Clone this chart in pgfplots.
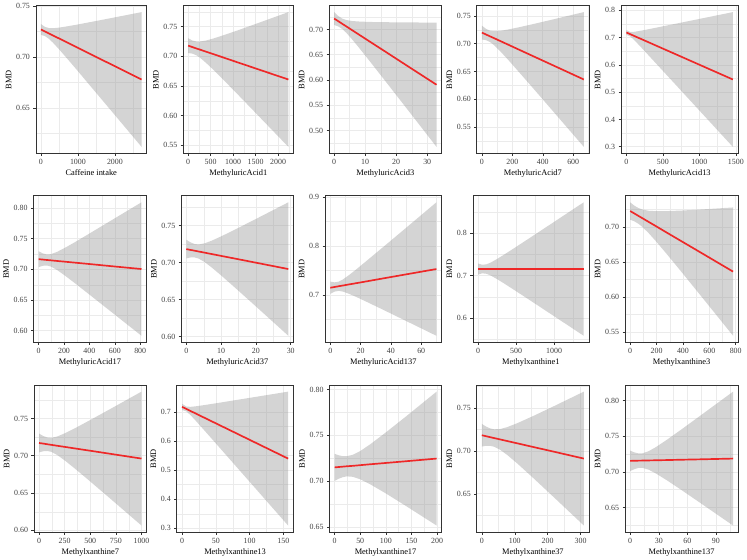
\documentclass[border=0pt]{standalone}
\usepackage{fontspec}
\setmainfont{Liberation Serif}
\usepackage{pgfplots}
\usepackage{pgfplotstable}
\pgfplotsset{compat=1.18}
\usepgfplotslibrary{fillbetween}
\definecolor{fitred}{RGB}{238,40,40}

\pgfplotstableread{
x lo m hi
0 0.7217 0.7270 0.7323
108.8 0.7205 0.7250 0.7295
217.6 0.7178 0.7231 0.7284
326.4 0.7140 0.7211 0.7282
489.6 0.7076 0.7182 0.7288
680 0.6997 0.7148 0.7299
952 0.6882 0.7099 0.7316
1360 0.6706 0.7025 0.7344
1904 0.6472 0.6927 0.7382
2720 0.6120 0.6780 0.7440
}\tA
\pgfplotstableread{
x lo m hi
0 0.7055 0.7180 0.7305
89.2 0.7047 0.7157 0.7268
178.4 0.7019 0.7134 0.7250
267.6 0.6974 0.7112 0.7250
401.4 0.6887 0.7077 0.7267
557.5 0.6776 0.7038 0.7300
780.5 0.6608 0.6981 0.7354
1115 0.6349 0.6895 0.7441
1561 0.6000 0.6781 0.7562
2230 0.5475 0.6610 0.7745
}\tB
\pgfplotstableread{
x lo m hi
0 0.7089 0.7216 0.7343
1.32 0.7060 0.7164 0.7267
2.64 0.7008 0.7111 0.7214
3.96 0.6932 0.7059 0.7186
5.94 0.6794 0.6980 0.7166
8.25 0.6621 0.6888 0.7156
11.55 0.6366 0.6757 0.7148
16.5 0.5978 0.6561 0.7143
23.1 0.5458 0.6298 0.7139
33 0.4675 0.5905 0.7135
}\tC
\pgfplotstableread{
x lo m hi
0 0.7076 0.7201 0.7326
26.8 0.7065 0.7167 0.7269
53.6 0.7031 0.7133 0.7235
80.4 0.6974 0.7100 0.7225
120.6 0.6865 0.7049 0.7232
167.5 0.6726 0.6990 0.7254
234.5 0.6518 0.6905 0.7291
335 0.6203 0.6778 0.7353
469 0.5778 0.6609 0.7439
670 0.5140 0.6355 0.7570
}\tD
\pgfplotstableread{
x lo m hi
0 0.7101 0.7187 0.7273
58.4 0.7032 0.7118 0.7204
116.8 0.6883 0.7049 0.7216
175.2 0.6719 0.6980 0.7242
262.8 0.6468 0.6877 0.7286
365 0.6172 0.6756 0.7340
511 0.5749 0.6584 0.7419
730 0.5114 0.6326 0.7537
1022 0.4266 0.5981 0.7696
1460 0.2994 0.5464 0.7934
}\tE
\pgfplotstableread{
x lo m hi
0 0.7036 0.7166 0.7297
32.4 0.7058 0.7160 0.7261
64.8 0.7063 0.7153 0.7243
97.2 0.7045 0.7147 0.7248
145.8 0.6989 0.7137 0.7286
202.5 0.6906 0.7126 0.7346
283.5 0.6778 0.7110 0.7441
405 0.6580 0.7086 0.7591
567 0.6314 0.7053 0.7793
810 0.5915 0.7005 0.8095
}\tF
\pgfplotstableread{
x lo m hi
0 0.7055 0.7181 0.7307
1.172 0.7068 0.7170 0.7273
2.344 0.7069 0.7160 0.7250
3.516 0.7054 0.7149 0.7243
5.274 0.7006 0.7133 0.7259
7.325 0.6932 0.7114 0.7295
10.255 0.6816 0.7087 0.7358
14.65 0.6633 0.7047 0.7460
20.51 0.6386 0.6993 0.7600
29.3 0.6012 0.6912 0.7812
}\tG
\pgfplotstableread{
x lo m hi
0 0.7022 0.7147 0.7272
2.8 0.7068 0.7162 0.7257
5.6 0.7083 0.7178 0.7272
8.4 0.7068 0.7193 0.7318
12.6 0.7020 0.7216 0.7411
17.5 0.6954 0.7242 0.7531
24.5 0.6852 0.7280 0.7709
35 0.6696 0.7338 0.7979
49 0.6485 0.7414 0.8342
70 0.6168 0.7528 0.8888
}\tH
\pgfplotstableread{
x lo m hi
0 0.7024 0.7154 0.7284
55.6 0.7053 0.7154 0.7255
111.2 0.7042 0.7154 0.7266
166.8 0.7001 0.7154 0.7307
250.2 0.6917 0.7154 0.7391
347.5 0.6809 0.7154 0.7499
486.5 0.6649 0.7154 0.7659
695 0.6405 0.7154 0.7903
973 0.6077 0.7154 0.8231
1390 0.5584 0.7154 0.8724
}\tI
\pgfplotstableread{
x lo m hi
0 0.7100 0.7224 0.7348
31.2 0.7078 0.7190 0.7301
62.4 0.7043 0.7155 0.7267
93.6 0.6996 0.7121 0.7245
140.4 0.6909 0.7069 0.7228
195 0.6795 0.7009 0.7222
273 0.6622 0.6922 0.7223
390 0.6355 0.6793 0.7231
546 0.5994 0.6621 0.7247
780 0.5449 0.6362 0.7275
}\tJ
\pgfplotstableread{
x lo m hi
0 0.7045 0.7171 0.7297
40 0.7060 0.7163 0.7265
80 0.7064 0.7154 0.7245
120 0.7052 0.7146 0.7240
180 0.7008 0.7133 0.7259
250 0.6938 0.7119 0.7300
350 0.6828 0.7098 0.7368
500 0.6655 0.7067 0.7479
700 0.6420 0.7025 0.7630
1000 0.6065 0.6962 0.7859
}\tK
\pgfplotstableread{
x lo m hi
0 0.7062 0.7169 0.7276
6.28 0.7015 0.7098 0.7181
12.56 0.6884 0.7027 0.7170
18.84 0.6728 0.6956 0.7184
28.26 0.6485 0.6849 0.7214
39.25 0.6197 0.6725 0.7253
54.95 0.5784 0.6547 0.7310
78.5 0.5163 0.6281 0.7398
109.9 0.4335 0.5925 0.7515
157 0.3092 0.5392 0.7692
}\tL
\pgfplotstableread{
x lo m hi
0 0.7002 0.7150 0.7298
7.96 0.7026 0.7154 0.7282
15.92 0.7043 0.7158 0.7273
23.88 0.7052 0.7162 0.7272
35.82 0.7047 0.7167 0.7288
49.75 0.7021 0.7174 0.7327
69.65 0.6965 0.7184 0.7402
99.5 0.6868 0.7198 0.7529
139.3 0.6729 0.7217 0.7705
199 0.6516 0.7246 0.7976
}\tM
\pgfplotstableread{
x lo m hi
0 0.7050 0.7182 0.7314
12.4 0.7059 0.7171 0.7284
24.8 0.7059 0.7160 0.7262
37.2 0.7048 0.7149 0.7251
55.8 0.7012 0.7133 0.7254
77.5 0.6951 0.7114 0.7277
108.5 0.6850 0.7087 0.7324
155 0.6688 0.7046 0.7404
217 0.6466 0.6992 0.7517
310 0.6130 0.6910 0.7690
}\tN
\pgfplotstableread{
x lo m hi
0 0.7010 0.7154 0.7298
4.32 0.7037 0.7155 0.7273
8.64 0.7055 0.7157 0.7259
12.96 0.7056 0.7158 0.7260
19.44 0.7030 0.7160 0.7290
27 0.6977 0.7162 0.7347
37.8 0.6887 0.7165 0.7443
54 0.6743 0.7170 0.7597
75.6 0.6545 0.7176 0.7808
108 0.6246 0.7186 0.8126
}\tO

\pgfplotsset{
  panel/.style={
    scale only axis, anchor=north west,
    enlargelimits=0.05,
    axis line style={draw=black!80, line width=0.6pt},
    tick align=outside, tick pos=left,
    major tick length=2.5pt, minor tick length=0pt,
    every tick/.style={draw=black!80, line width=0.5pt},
    grid=both,
    major grid style={draw=black!8, line width=0.55pt},
    minor grid style={draw=black!8, line width=0.3pt},
    tick label style={font=\fontsize{8}{9}\selectfont, text=black!75},
    label style={font=\fontsize{8.5}{10}\selectfont},
    ylabel={BMD},
    scaled ticks=false,
    /pgf/number format/assume math mode=true,
    xticklabel style={/pgf/number format/.cd, 1000 sep={}},
    yticklabel style={/pgf/number format/.cd, fixed, fixed zerofill, precision=2},
    xlabel style={yshift=2pt},
    ylabel style={yshift=-2pt},
  },
  onedec/.style={yticklabel style={/pgf/number format/.cd, fixed, fixed zerofill, precision=1}},
  band/.style={fill=black!40, fill opacity=0.42, draw=none},
  fit/.style={draw=fitred, line width=1.7pt},
}
\newcommand{\panelplots}[2]{%
  \addplot[name path=U#2, draw=none, forget plot] table[x=x,y=hi]{#1};
  \addplot[name path=L#2, draw=none, forget plot] table[x=x,y=lo]{#1};
  \addplot[band] fill between[of=U#2 and L#2];
  \addplot[fit] table[x=x,y=m]{#1};
}

\begin{document}
\begin{tikzpicture}
\path (0,0) rectangle (747pt,-561pt);
% Row 1
\begin{axis}[panel, at={(32.5pt,-4pt)}, width=112pt, height=150pt,
  xlabel={Caffeine intake}, xtick={0,1000,2000}, minor xtick={500,1500,2500},
  ytick={0.65,0.70,0.75}, minor ytick={0.625,0.675,0.725}]
\panelplots{\tA}{a}
\end{axis}
\begin{axis}[panel, at={(181.5pt,-4pt)}, width=111.5pt, height=150pt,
  xlabel={MethyluricAcid1}, xtick={0,500,1000,1500,2000}, minor xtick={250,750,1250,1750,2250},
  ytick={0.55,0.60,0.65,0.70,0.75}, minor ytick={0.575,0.625,0.675,0.725,0.775}]
\panelplots{\tB}{b}
\end{axis}
\begin{axis}[panel, at={(329pt,-4pt)}, width=114pt, height=150pt,
  xlabel={MethyluricAcid3}, xtick={0,10,20,30}, minor xtick={5,15,25},
  ytick={0.50,0.55,0.60,0.65,0.70}, minor ytick={0.475,0.525,0.575,0.625,0.675,0.725}]
\panelplots{\tC}{c}
\end{axis}
\begin{axis}[panel, at={(478.5pt,-4pt)}, width=113.5pt, height=150pt,
  xlabel={MethyluricAcid7}, xtick={0,200,400,600}, minor xtick={100,300,500,700},
  ytick={0.55,0.60,0.65,0.70,0.75}, minor ytick={0.525,0.575,0.625,0.675,0.725}]
\panelplots{\tD}{d}
\end{axis}
\begin{axis}[panel, onedec, at={(624.5pt,-4pt)}, width=118.5pt, height=150pt,
  xlabel={MethyluricAcid13}, xtick={0,500,1000,1500}, minor xtick={250,750,1250},
  ytick={0.3,0.4,0.5,0.6,0.7,0.8}, minor ytick={0.35,0.45,0.55,0.65,0.75}]
\panelplots{\tE}{e}
\end{axis}
% Row 2
\begin{axis}[panel, at={(30pt,-196.5pt)}, width=114.5pt, height=148.5pt,
  xlabel={MethyluricAcid17}, xtick={0,200,400,600,800}, minor xtick={100,300,500,700},
  ytick={0.60,0.65,0.70,0.75,0.80}, minor ytick={0.625,0.675,0.725,0.775}]
\panelplots{\tF}{f}
\end{axis}
\begin{axis}[panel, at={(179.5pt,-196.5pt)}, width=113.5pt, height=148.5pt,
  xlabel={MethyluricAcid37}, xtick={0,10,20,30}, minor xtick={5,15,25},
  ytick={0.60,0.65,0.70,0.75}, minor ytick={0.625,0.675,0.725,0.775}]
\panelplots{\tG}{g}
\end{axis}
\begin{axis}[panel, onedec, at={(325pt,-196.5pt)}, width=118pt, height=148.5pt,
  xlabel={MethyluricAcid137}, xtick={0,20,40,60}, minor xtick={10,30,50,70},
  ytick={0.7,0.8,0.9}, minor ytick={0.65,0.75,0.85}]
\panelplots{\tH}{h}
\end{axis}
\begin{axis}[panel, onedec, at={(474.5pt,-196.5pt)}, width=117.5pt, height=148.5pt,
  xlabel={Methylxanthine1}, xtick={0,500,1000}, minor xtick={250,750,1250},
  ytick={0.6,0.7,0.8}, minor ytick={0.55,0.65,0.75,0.85}]
\panelplots{\tI}{i}
\end{axis}
\begin{axis}[panel, at={(628.5pt,-196.5pt)}, width=114.5pt, height=148.5pt,
  xlabel={Methylxanthine3}, xtick={0,200,400,600,800}, minor xtick={100,300,500,700},
  ytick={0.55,0.60,0.65,0.70}, minor ytick={0.575,0.625,0.675,0.725}]
\panelplots{\tJ}{j}
\end{axis}
% Row 3
\begin{axis}[panel, at={(30.5pt,-388pt)}, width=114pt, height=149pt,
  xlabel={Methylxanthine7}, xtick={0,250,500,750,1000}, minor xtick={125,375,625,875},
  ytick={0.60,0.65,0.70,0.75}, minor ytick={0.625,0.675,0.725,0.775}]
\panelplots{\tK}{k}
\end{axis}
\begin{axis}[panel, onedec, at={(175pt,-388pt)}, width=118pt, height=149pt,
  xlabel={Methylxanthine13}, xtick={0,50,100,150}, minor xtick={25,75,125},
  ytick={0.3,0.4,0.5,0.6,0.7}, minor ytick={0.35,0.45,0.55,0.65}]
\panelplots{\tL}{l}
\end{axis}
\begin{axis}[panel, at={(329.5pt,-388pt)}, width=113.5pt, height=149pt,
  xlabel={Methylxanthine17}, xtick={0,50,100,150,200}, minor xtick={25,75,125,175},
  ytick={0.65,0.70,0.75,0.80}, minor ytick={0.675,0.725,0.775}]
\panelplots{\tM}{m}
\end{axis}
\begin{axis}[panel, at={(478.5pt,-388pt)}, width=113.5pt, height=149pt,
  xlabel={Methylxanthine37}, xtick={0,100,200,300}, minor xtick={50,150,250},
  ytick={0.65,0.70,0.75}, minor ytick={0.625,0.675,0.725,0.775}]
\panelplots{\tN}{n}
\end{axis}
\begin{axis}[panel, at={(628.5pt,-388pt)}, width=114.5pt, height=149pt,
  xlabel={Methylxanthine137}, xtick={0,30,60,90}, minor xtick={15,45,75,105},
  ytick={0.65,0.70,0.75,0.80}, minor ytick={0.625,0.675,0.725,0.775}]
\panelplots{\tO}{o}
\end{axis}
\end{tikzpicture}
\end{document}
